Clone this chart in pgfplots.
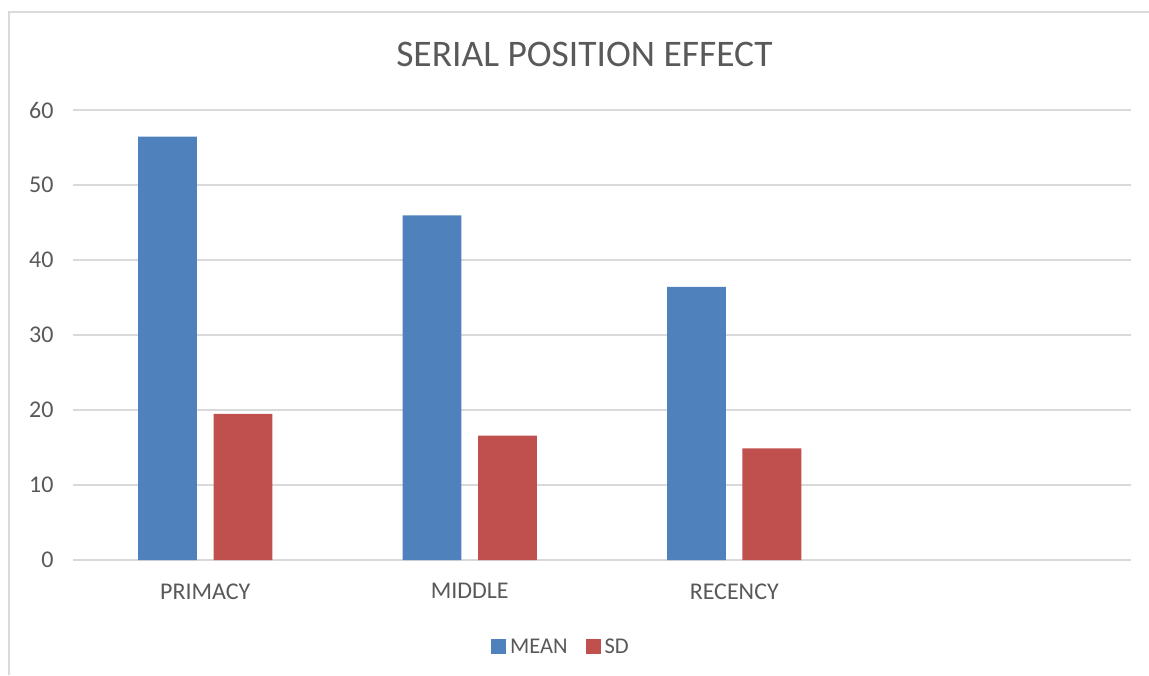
\documentclass[border=0pt]{standalone}
\usepackage{fontspec}
\setmainfont{Carlito}
\usepackage{pgfplots}
\pgfplotsset{compat=1.18}
\definecolor{barblue}{HTML}{4F81BD}
\definecolor{barred}{HTML}{C0504D}
\definecolor{txt}{HTML}{595959}
\definecolor{gridc}{HTML}{D9D9D9}
\begin{document}
\begin{tikzpicture}[x=1pt,y=1pt]
\useasboundingbox (0,0) rectangle (1149,675);
\draw[gridc, line width=2pt] (9,0) -- (9,663) -- (1149,663);
\node[txt, font=\fontsize{37.5}{42}\selectfont] at (584.5,621) {SERIAL POSITION EFFECT};
\begin{axis}[
  at={(73pt,115pt)}, anchor=south west,
  scale only axis, width=1058pt, height=450pt,
  ymin=0, ymax=60, ytick={0,10,...,60},
  xmin=-0.5, xmax=3.5, xtick={0,1,2}, xticklabels={PRIMACY,MIDDLE,RECENCY},
  ymajorgrids, grid style={gridc, line width=1.5pt},
  axis line style={draw=none}, major tick length=0pt,
  tick label style={txt, font=\fontsize{24}{28}\selectfont},
  yticklabel style={xshift=-16pt},
  xticklabel style={yshift=-20pt},
  /pgf/number format/assume math mode=true,
  ybar, bar width=0.223,
  legend image code/.code={\fill[#1] (0pt,-7pt) rectangle (15pt,8pt);},
  legend columns=2,
  legend style={at={(0.4612,-0.1933)}, anchor=center, draw=none,
    font=\fontsize{22.5}{26}\selectfont, text=txt,
    /tikz/every odd column/.append style={column sep=2pt},
    /tikz/every even column/.append style={column sep=16pt}},
  clip=false,
]
\addplot[fill=barblue, draw=none, bar shift=-0.1427] coordinates {(0,56.45) (1,45.96) (2,36.4)};
\addplot[fill=barred, draw=none, bar shift=0.1427] coordinates {(0,19.47) (1,16.58) (2,14.89)};
\legend{MEAN,SD}
\end{axis}
\end{tikzpicture}
\end{document}
